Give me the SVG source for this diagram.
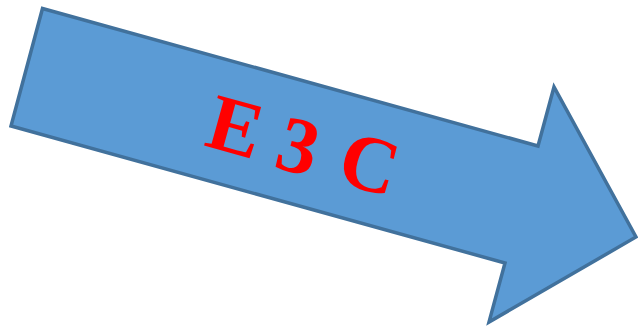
<svg xmlns="http://www.w3.org/2000/svg" width="638" height="328" viewBox="0 0 638 328">
<style>
.arrow{fill:#5b9bd5;stroke:#41719c;stroke-width:3.5;stroke-linejoin:miter}
.lbl{font-family:"Liberation Serif","DejaVu Serif",serif;font-weight:bold;font-size:80px;fill:#ff0000;text-anchor:middle}
</style>
<g id="arrow">
<polygon class="arrow" points="42.5,8.5 538,146 554,87 636,237 489,322 505,263 11,126"/>
</g>
<g id="label" transform="translate(303,145) rotate(15.5)">
<text class="lbl" x="-70" y="27">E</text>
<text class="lbl" x="-4" y="29">3</text>
<text class="lbl" x="69" y="27">C</text>
</g>
</svg>
